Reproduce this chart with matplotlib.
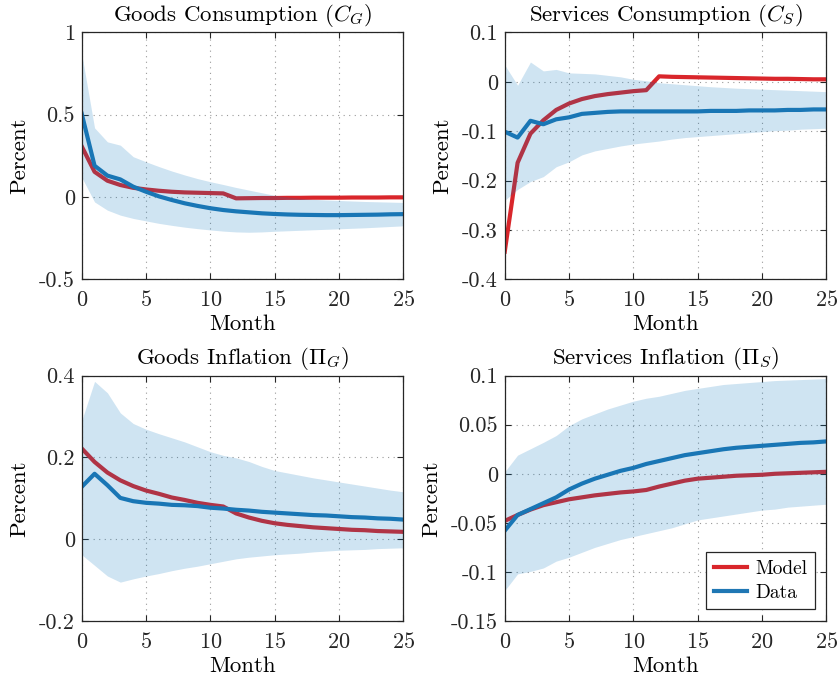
import matplotlib
matplotlib.use("Agg")
import matplotlib.pyplot as plt
import numpy as np

plt.rcParams["font.family"] = "cmr10"
plt.rcParams["mathtext.fontset"] = "cm"
plt.rcParams["axes.unicode_minus"] = False
plt.rcParams["axes.formatter.use_mathtext"] = True

months = np.arange(26)

# goods consumption
cg_model = [0.308, 0.153, 0.099, 0.073, 0.056, 0.046, 0.038, 0.032, 0.028, 0.026, 0.024, 0.022,
            -0.008, -0.007, -0.006, -0.006, -0.005, -0.005, -0.004, -0.004, -0.004, -0.003,
            -0.003, -0.003, -0.002, -0.002]
cg_data = [0.506, 0.19, 0.13, 0.107, 0.063, 0.032, 0.004, -0.018, -0.038, -0.054, -0.068, -0.079,
           -0.087, -0.093, -0.099, -0.103, -0.106, -0.108, -0.109, -0.110, -0.110, -0.109,
           -0.108, -0.107, -0.105, -0.104]
cg_hi = [0.87, 0.42, 0.335, 0.315, 0.245, 0.214, 0.185, 0.158, 0.134, 0.112, 0.093, 0.076,
         0.058, 0.042, 0.026, 0.010, 0.0, -0.008, -0.014, -0.018, -0.021, -0.024, -0.027,
         -0.029, -0.031, -0.033]
cg_lo = [0.12, -0.03, -0.08, -0.11, -0.13, -0.145, -0.16, -0.172, -0.183, -0.192, -0.2, -0.207,
         -0.212, -0.214, -0.212, -0.208, -0.205, -0.202, -0.199, -0.196, -0.193, -0.190,
         -0.187, -0.183, -0.179, -0.175]

# services consumption
cs_model = [-0.344, -0.164, -0.105, -0.078, -0.057, -0.044, -0.035, -0.029, -0.025, -0.022,
            -0.019, -0.017, 0.011, 0.010, 0.0095, 0.009, 0.0085, 0.008, 0.0075, 0.007, 0.0065,
            0.006, 0.006, 0.0055, 0.005, 0.005]
cs_data = [-0.101, -0.113, -0.079, -0.086, -0.076, -0.072, -0.065, -0.063, -0.061, -0.060,
           -0.060, -0.060, -0.060, -0.060, -0.060, -0.060, -0.059, -0.059, -0.059, -0.058,
           -0.058, -0.058, -0.057, -0.057, -0.056, -0.056]
cs_hi = [0.034, -0.007, 0.04, 0.022, 0.025, 0.018, 0.017, 0.016, 0.013, 0.01, 0.005, 0.002,
         -0.002, -0.004, -0.006, -0.008, -0.010, -0.0115, -0.013, -0.014, -0.015, -0.016,
         -0.017, -0.018, -0.019, -0.020]
cs_lo = [-0.24, -0.218, -0.202, -0.192, -0.172, -0.162, -0.148, -0.14, -0.135, -0.13, -0.126,
         -0.123, -0.120, -0.116, -0.113, -0.111, -0.109, -0.107, -0.105, -0.103, -0.101,
         -0.099, -0.098, -0.096, -0.095, -0.094]

# goods inflation
pg_model = [0.222, 0.189, 0.163, 0.144, 0.130, 0.119, 0.111, 0.102, 0.096, 0.089, 0.084, 0.080,
            0.063, 0.053, 0.045, 0.039, 0.035, 0.032, 0.029, 0.027, 0.025, 0.023, 0.022,
            0.020, 0.019, 0.018]
pg_data = [0.128, 0.16, 0.132, 0.101, 0.093, 0.089, 0.087, 0.084, 0.083, 0.081, 0.077, 0.075,
           0.072, 0.070, 0.067, 0.065, 0.063, 0.061, 0.059, 0.058, 0.056, 0.054, 0.053,
           0.051, 0.050, 0.048]
pg_hi = [0.29, 0.386, 0.358, 0.309, 0.283, 0.269, 0.258, 0.248, 0.238, 0.226, 0.214, 0.205,
         0.199, 0.190, 0.178, 0.168, 0.162, 0.156, 0.150, 0.145, 0.140, 0.135, 0.130, 0.125,
         0.120, 0.116]
pg_lo = [-0.038, -0.064, -0.09, -0.105, -0.097, -0.09, -0.084, -0.077, -0.071, -0.066, -0.06,
         -0.054, -0.048, -0.044, -0.041, -0.038, -0.036, -0.034, -0.031, -0.029, -0.027,
         -0.026, -0.025, -0.023, -0.022, -0.021]

# services inflation
ps_model = [-0.048, -0.042, -0.0365, -0.032, -0.029, -0.026, -0.024, -0.022, -0.0205, -0.019,
            -0.018, -0.0165, -0.013, -0.010, -0.007, -0.005, -0.004, -0.003, -0.002, -0.0015,
            -0.001, 0.0, 0.0005, 0.001, 0.0015, 0.002]
ps_data = [-0.058, -0.042, -0.036, -0.030, -0.024, -0.016, -0.010, -0.005, -0.001, 0.003, 0.006,
           0.010, 0.013, 0.016, 0.019, 0.021, 0.023, 0.025, 0.0265, 0.0275, 0.0285, 0.0295,
           0.0305, 0.0315, 0.032, 0.033]
ps_hi = [0.002, 0.019, 0.0255, 0.032, 0.039, 0.049, 0.056, 0.061, 0.066, 0.070, 0.074, 0.077,
         0.079, 0.082, 0.085, 0.087, 0.089, 0.091, 0.092, 0.093, 0.094, 0.095, 0.0955, 0.096,
         0.0965, 0.097]
ps_lo = [-0.119, -0.102, -0.0995, -0.096, -0.089, -0.085, -0.080, -0.075, -0.071, -0.067,
         -0.064, -0.061, -0.058, -0.055, -0.051, -0.047, -0.045, -0.043, -0.041, -0.039,
         -0.037, -0.036, -0.034, -0.033, -0.032, -0.031]

titles = [r"Goods Consumption ($C_G$)", r"Services Consumption ($C_S$)",
          r"Goods Inflation ($\Pi_G$)", r"Services Inflation ($\Pi_S$)"]
ylims = [(-0.5, 1), (-0.4, 0.1), (-0.2, 0.4), (-0.15, 0.1)]
yticks = [[-0.5, 0, 0.5, 1], [-0.4, -0.3, -0.2, -0.1, 0, 0.1],
          [-0.2, 0, 0.2, 0.4], [-0.15, -0.1, -0.05, 0, 0.05, 0.1]]
panels = [(cg_model, cg_data, cg_lo, cg_hi), (cs_model, cs_data, cs_lo, cs_hi),
          (pg_model, pg_data, pg_lo, pg_hi), (ps_model, ps_data, ps_lo, ps_hi)]

red = "#d9262b"
blue = "#1f77b4"
band = (0.0, 0.447, 0.741)

fig = plt.figure(figsize=(8.38, 6.83), dpi=100)
positions = [[0.0975, 0.591, 0.3838, 0.3616], [0.6023, 0.591, 0.3838, 0.3616],
             [0.0975, 0.0908, 0.3838, 0.3592], [0.6023, 0.0908, 0.3838, 0.3592]]

for i, pos in enumerate(positions):
    ax = fig.add_axes(pos)
    model, data, lo, hi = panels[i]
    ax.plot(months, model, color=red, lw=3, label="Model", zorder=2)
    ax.plot(months, data, color=blue, lw=3, label="Data", zorder=2)
    # band goes on top of the lines, MATLAB-style transparency
    ax.fill_between(months, lo, hi, color=band, alpha=0.19, lw=0, zorder=3)
    ax.set_xlim(0, 25)
    ax.set_ylim(*ylims[i])
    ax.set_xticks([0, 5, 10, 15, 20, 25])
    ax.set_yticks(yticks[i])
    ax.set_yticklabels(["%g" % v for v in yticks[i]])
    ax.grid(True, linestyle=(0, (1, 4)), color="#999999", lw=0.8, zorder=1)
    ax.tick_params(direction="in", top=True, right=True, length=4, width=0.8,
                   labelsize=16, colors="#262626")
    ax.tick_params(axis="x", pad=8)
    ax.tick_params(axis="y", pad=5)
    for sp in ax.spines.values():
        sp.set_color("#262626")
        sp.set_linewidth(0.9)
        sp.set_zorder(5)
    ax.set_title(titles[i], fontsize=16.5, pad=8.5)
    ax.set_xlabel("Month", fontsize=16.5, labelpad=3)
    ax.set_ylabel("Percent", fontsize=16.5, labelpad=7)
    if i == 3:
        leg = ax.legend(loc="lower right", fontsize=14, fancybox=False, framealpha=1,
                        edgecolor="#262626", handlelength=1.7, borderaxespad=0.6,
                        handletextpad=0.4, labelspacing=0.3, borderpad=0.4)
        leg.get_frame().set_linewidth(0.9)

fig.savefig("out.png", dpi=100)
